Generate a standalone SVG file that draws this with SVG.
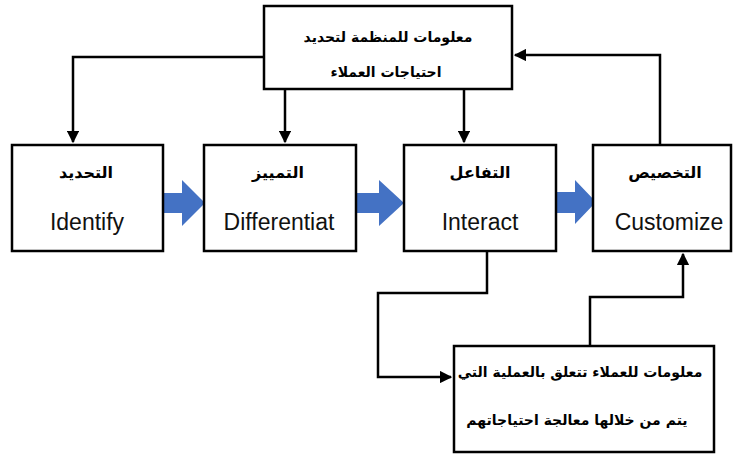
<svg xmlns="http://www.w3.org/2000/svg" width="736" height="457" viewBox="0 0 736 457">
<defs>
<style>
.box{fill:#fff;stroke:#000;stroke-width:2.5}
.ln{fill:none;stroke:#000;stroke-width:2.5}
.ar{font-family:"DejaVu Sans",sans-serif;font-weight:bold;font-size:14px;text-anchor:middle;direction:rtl}
.lb{font-size:16px}
.en{font-family:"Liberation Sans",Arial,sans-serif;font-size:23px;text-anchor:middle;fill:#111}
.blk{fill:#4472C4}
</style>
<marker id="ah" viewBox="0 0 10 10" refX="9" refY="5" markerWidth="5" markerHeight="5" orient="auto" markerUnits="strokeWidth">
<path d="M0,0 L10,5 L0,10 z" fill="#000"/>
</marker>
</defs>
<g id="connectors">
<path class="ln" d="M264,57 H73 V142" marker-end="url(#ah)"/>
<path class="ln" d="M285,89 V142" marker-end="url(#ah)"/>
<path class="ln" d="M464,89 V142" marker-end="url(#ah)"/>
<path class="ln" d="M660,145 V55 H515" marker-end="url(#ah)"/>
<path class="ln" d="M487,251 V293 H378 V377 H451" marker-end="url(#ah)"/>
<path class="ln" d="M590,346 V297 H683 V254" marker-end="url(#ah)"/>
<path class="blk" d="M164,193 H182 V180 L205,203 L182,226 V213 H164 Z"/>
<path class="blk" d="M357,193 H379 V180 L404,203 L379,226 V213 H357 Z"/>
<path class="blk" d="M557,192 H575 V180 L596,202 L575,224 V213 H557 Z"/>
</g>
<g id="top">
<rect class="box" x="264" y="6" width="248" height="83"/>
<text class="ar" x="388" y="42">معلومات للمنظمة لتحديد</text>
<text class="ar" x="386" y="77">احتياجات العملاء</text>
</g>
<g id="identify">
<rect class="box" x="12" y="145" width="151" height="106"/>
<text class="ar lb" x="86" y="178">التحديد</text>
<text class="en" x="87" y="230">Identify</text>
</g>
<g id="differentiate">
<rect class="box" x="204" y="145" width="152" height="106"/>
<text class="ar lb" x="278" y="178">التمييز</text>
<text class="en" x="279" y="230">Differentiat</text>
</g>
<g id="interact">
<rect class="box" x="404" y="145" width="152" height="106"/>
<text class="ar lb" x="480" y="178">التفاعل</text>
<text class="en" x="480" y="230">Interact</text>
</g>
<g id="customize">
<rect class="box" x="593" y="145" width="138" height="106"/>
<text class="ar lb" x="665" y="178">التخصيص</text>
<text class="en" x="669" y="230">Customize</text>
</g>
<g id="bottom">
<rect class="box" x="454" y="346" width="260" height="106"/>
<text class="ar" x="580" y="377">معلومات للعملاء تتعلق بالعملية التي</text>
<text class="ar" x="577" y="425">يتم من خلالها معالجة احتياجاتهم</text>
</g>
</svg>
